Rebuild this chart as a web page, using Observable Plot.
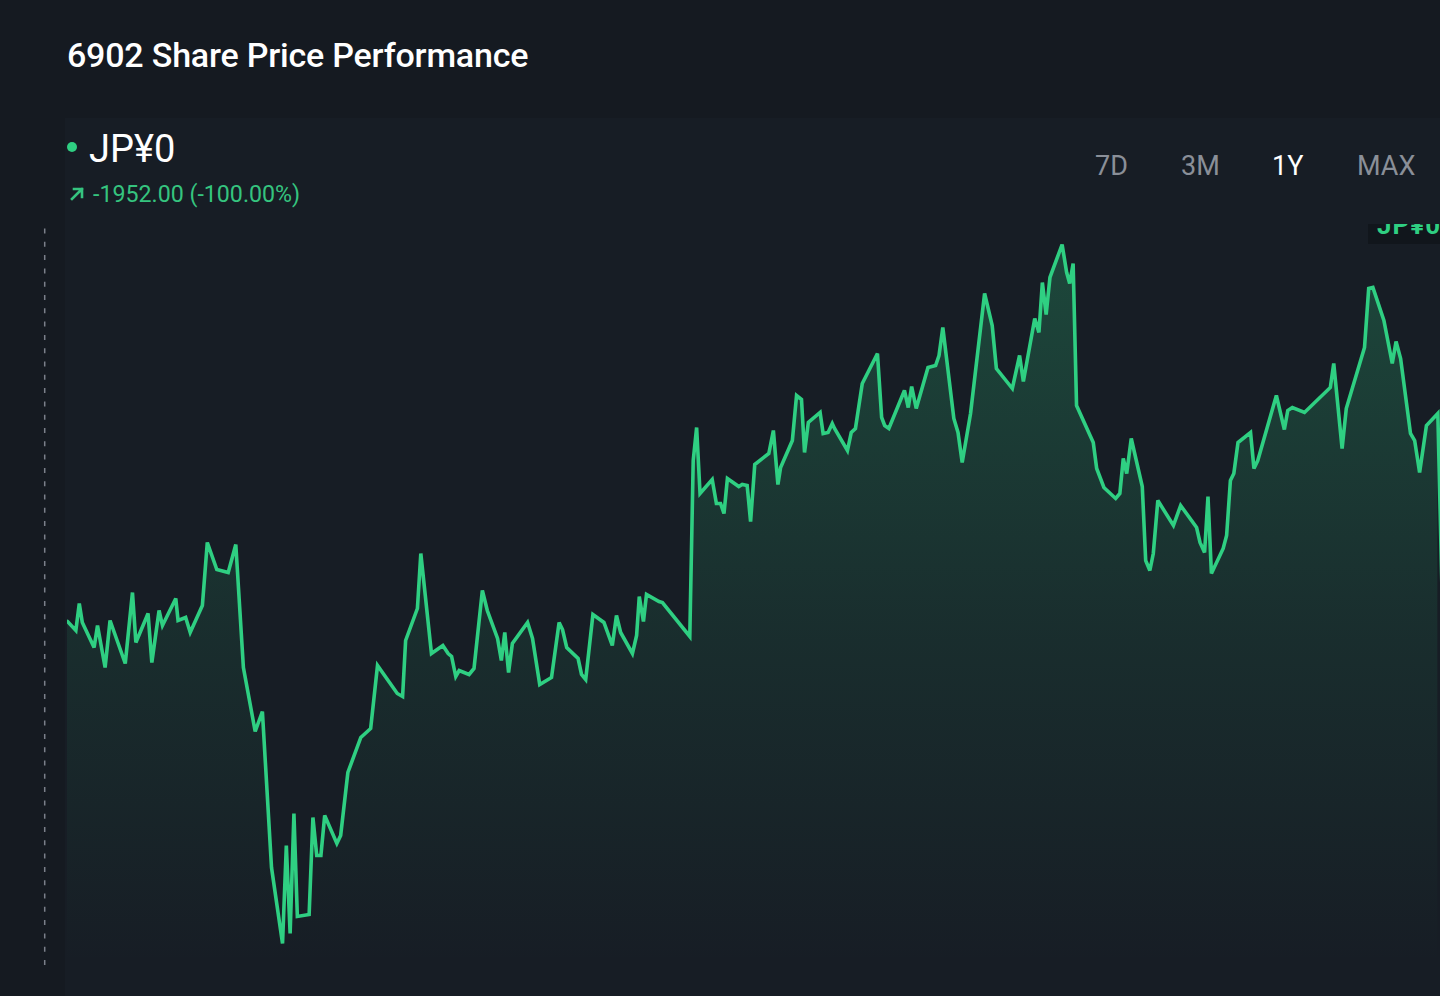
<!DOCTYPE html>
<html>
<head>
<meta charset="utf-8">
<script src="https://cdn.jsdelivr.net/npm/d3@7"></script>
<script src="https://cdn.jsdelivr.net/npm/@observablehq/plot@0.6"></script>
<style>
  html, body { margin: 0; padding: 0; background: #151a21; overflow: hidden; }
  body { width: 1440px; height: 996px; position: relative; font-family: Roboto, "Noto Sans", sans-serif; }
  #panel { position: absolute; left: 65px; top: 118px; right: 0; bottom: 0; background: #171d25; }
  #header { position: relative; height: 215px; }
  #title { position: absolute; left: 67px; top: 35px; font-size: 34px; font-weight: 500; color: #ffffff; letter-spacing: -0.2px; }
  #dot { position: absolute; left: 67px; top: 142px; width: 10px; height: 10px; border-radius: 50%; background: #2fcf82; }
  #price { position: absolute; left: 89px; top: 127px; font-size: 38px; color: #ffffff; }
  #change { position: absolute; left: 67px; top: 180px; font-size: 23.2px; color: #35c47f; display: flex; align-items: center; }
  #change svg { margin-right: 6px; }
  .btn { position: absolute; top: 150px; font-size: 27px; color: #8a8f98; }
  .btn.active { color: #ffffff; }
  #tag { position: absolute; left: 1368px; top: 224px; width: 72px; height: 20px; overflow: hidden; }
  #tag span { position: absolute; left: 0; top: -14px; padding: 0 8px 4px 9px; background: #11161c; color: #2fcf82; font-weight: 700; font-size: 26px; line-height: 30px; letter-spacing: 1px; white-space: nowrap; }
  #chart { position: relative; }
</style>
</head>
<body>
<div id="panel"></div>
<div id="header">
  <div id="title">6902 Share Price Performance</div>
  <div id="dot"></div>
  <div id="price">JP¥0</div>
  <div id="change"><svg width="20" height="20" viewBox="0 0 20 20"><path d="M5 15 L15 5 M7 5 H15 V13" stroke="#35c47f" stroke-width="2.6" fill="none" stroke-linecap="square"/></svg><span>-1952.00 (-100.00%)</span></div>
  <div class="btn" style="left:1095px">7D</div>
  <div class="btn" style="left:1181px">3M</div>
  <div class="btn active" style="left:1272px">1Y</div>
  <div class="btn" style="left:1357px">MAX</div>
</div>
<div id="tag"><span>JP¥0</span></div>
<div id="chart"></div>
<script>
// day offsets within the 1-year window and closing prices (JPY)
const days = [0.0,2.2,3.1,3.9,7.0,7.9,9.9,11.2,15.2,17.1,18.0,21.2,22.2,24.1,25.0,28.5,29.1,31.1,32.3,35.5,
  36.8,39.3,42.3,44.3,46.3,49.4,51.3,53.7,56.6,57.6,58.6,59.6,60.5,63.6,64.6,65.6,66.7,67.7,70.9,71.9,
  73.8,77.2,79.8,81.6,86.8,88.2,89.0,92.1,93.0,95.8,98.8,100.2,101.1,102.2,103.1,105.7,107.0,109.2,110.5,113.2,
  114.2,115.1,116.1,117.1,121.1,122.4,124.3,127.4,129.4,130.3,131.4,134.4,135.3,136.4,138.3,141.2,143.4,144.5,145.6,148.7,
  149.8,150.5,151.6,152.4,155.7,156.6,163.8,164.7,165.6,166.5,169.7,170.8,171.9,172.8,173.7,176.7,177.6,178.9,179.8,180.9,
  184.6,185.8,187.0,187.7,190.8,191.9,193.2,194.0,195.0,198.1,198.9,200.2,201.3,201.9,205.3,206.3,207.4,209.2,213.2,214.3,
  215.1,216.2,220.3,221.3,222.2,223.4,226.5,228.5,229.4,230.4,233.3,234.4,235.5,237.7,241.4,243.4,244.5,248.7,250.6,251.6,
  254.6,255.7,256.6,257.6,258.6,261.8,263.0,263.8,264.7,265.6,270.0,270.9,272.8,275.9,277.0,277.9,278.8,280.0,282.9,283.8,
  284.9,285.8,287.0,291.1,293.0,297.2,298.1,299.3,300.2,301.1,304.2,305.1,306.1,307.0,308.1,311.4,312.3,313.3,318.2,320.3,
  321.2,322.4,325.6,332.4,333.3,335.5,336.6,341.4,342.5,343.6,346.5,348.7,349.7,350.9,353.5,354.6,355.9,357.7,360.7,368.0];
const prices = [1952,1934,1988,1950,1900,1944,1860,1954,1868,2010,1910,1968,1870,1974,1944,1998,1954,1960,1930,1984,
  2110,2056,2050,2106,1860,1732,1772,1460,1308,1504,1328,1568,1362,1366,1560,1484,1484,1564,1508,1524,
  1650,1720,1738,1864,1808,1802,1914,1978,2088,1888,1904,1888,1882,1842,1854,1846,1858,2014,1974,1918,
  1874,1930,1850,1908,1950,1918,1826,1840,1950,1936,1900,1878,1846,1836,1966,1950,1904,1964,1930,1888,
  1924,2002,1952,2006,1992,1990,1922,2274,2340,2208,2236,2188,2188,2168,2238,2222,2226,2224,2152,2266,
  2288,2334,2226,2260,2314,2404,2396,2290,2350,2370,2328,2330,2348,2338,2294,2330,2338,2428,2488,2360,
  2344,2338,2414,2380,2422,2378,2460,2464,2484,2540,2358,2330,2270,2368,2608,2544,2458,2418,2484,2432,
  2558,2530,2630,2566,2640,2706,2650,2628,2668,2384,2310,2258,2220,2198,2208,2278,2248,2318,2222,2074,
  2054,2088,2194,2144,2184,2140,2110,2090,2202,2048,2098,2124,2234,2248,2310,2330,2258,2274,2404,2336,
  2374,2380,2370,2420,2468,2298,2378,2500,2618,2620,2554,2468,2512,2478,2328,2314,2250,2344,2368,0];
const xDomain = [0, 361.4];
const yDomain = [1264, 2744];
const cursorDay = [-6];

const data = days.map((d, i) => ({day: d, price: prices[i]}));
const areaData = data.slice(0, -1);

const gradientDefs = () => {
  const ns = "http://www.w3.org/2000/svg";
  const defs = document.createElementNS(ns, "defs");
  const g = document.createElementNS(ns, "linearGradient");
  g.setAttribute("id", "areaGrad");
  g.setAttribute("x1", "0"); g.setAttribute("x2", "0");
  g.setAttribute("y1", "0"); g.setAttribute("y2", "1");
  [["0", 0.24], ["0.55", 0.09], ["1", 0.0]].forEach(([o, a]) => {
    const s = document.createElementNS(ns, "stop");
    s.setAttribute("offset", o);
    s.setAttribute("stop-color", "#2fcf82");
    s.setAttribute("stop-opacity", a);
    g.appendChild(s);
  });
  defs.appendChild(g);
  return defs;
};

const chart = Plot.plot({
  width: 1440,
  height: 781,
  marginLeft: 67,
  marginRight: 0,
  marginTop: 10,
  marginBottom: 31,
  style: {background: "transparent", overflow: "visible"},
  x: {domain: xDomain, axis: null},
  y: {domain: yDomain, axis: null},
  marks: [
    gradientDefs,
    Plot.areaY(areaData, {x: "day", y1: yDomain[0], y2: "price", fill: "url(#areaGrad)", clip: true}),
    Plot.lineY(data, {x: "day", y: "price", stroke: "#2fcf82", strokeWidth: 3.6, strokeLinejoin: "miter", strokeMiterlimit: 3, clip: true}),
    Plot.ruleX(cursorDay, {x: d => d, y1: yDomain[0], y2: yDomain[1], stroke: "#7b808a", strokeWidth: 1.5, strokeDasharray: "5,8.3"})
  ]
});
document.getElementById("chart").appendChild(chart);
</script>
</body>
</html>
